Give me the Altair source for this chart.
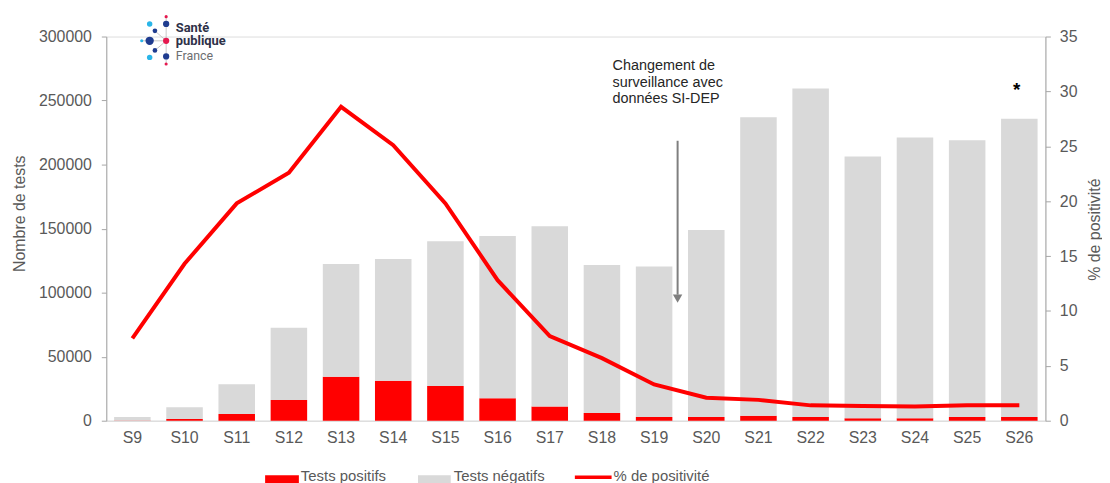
import altair as alt
import pandas as pd

weeks = ["S9", "S10", "S11", "S12", "S13", "S14", "S15", "S16", "S17",
         "S18", "S19", "S20", "S21", "S22", "S23", "S24", "S25", "S26"]
tests_positifs = [200, 1300, 5200, 16100, 34400, 31300, 27200, 17600, 11100,
                  6000, 2900, 2900, 3900, 2900, 1900, 1900, 2900, 2900]
tests_negatifs = [2700, 9300, 23300, 56400, 87900, 94900, 113000, 126700, 140700,
                  115500, 117600, 146100, 233000, 256500, 204500, 219200, 216200, 232900]
pct_positivite = [7.5, 14.3, 19.8, 22.6, 28.6, 25.1, 19.8, 12.8, 7.7,
                  5.7, 3.3, 2.1, 1.9, 1.4, 1.35, 1.3, 1.4, 1.4]

series_names = ["Tests positifs", "Tests négatifs", "% de positivité"]
left_ticks = [0, 50000, 100000, 150000, 200000, 250000, 300000]
right_ticks = [0, 5, 10, 15, 20, 25, 30, 35]
annotation_lines = ["Changement de", "surveillance avec", "données SI-DEP"]
logo_lines = ["Santé", "publique", "France"]

FONT = "Liberation Sans"
GREY_TXT = "#595959"
RED = "#FF0000"
LIGHT = "#D9D9D9"

rows = []
for i, w in enumerate(weeks):
    rows.append({"week": w, "serie": series_names[0], "value": tests_positifs[i], "ord": 0})
    rows.append({"week": w, "serie": series_names[1], "value": tests_negatifs[i], "ord": 1})
bars_df = pd.DataFrame(rows)
line_df = pd.DataFrame({"week": weeks, "pct": pct_positivite})

W, H = 946, 387

x_enc = alt.X("week:N", sort=weeks,
              scale=alt.Scale(paddingInner=0.3, paddingOuter=0.15),
              axis=alt.Axis(title=None, labelAngle=0, labelFont=FONT, labelFontSize=16,
                            labelColor=GREY_TXT, ticks=False, labelPadding=9,
                            domainColor="#D9D9D9", domainWidth=1))

bars = alt.Chart(bars_df).mark_bar().encode(
    x=x_enc,
    y=alt.Y("value:Q", stack="zero",
            scale=alt.Scale(domain=[0, 300000], nice=False),
            axis=alt.Axis(title="Nombre de tests", values=left_ticks, format="d",
                          grid=False, orient="left",
                          labelFont=FONT, labelFontSize=16, labelColor=GREY_TXT,
                          labelPadding=10, tickSize=5, tickColor="#A6A6A6",
                          domainColor="#A6A6A6",
                          titleFont=FONT, titleFontSize=16, titleFontWeight="normal",
                          titleColor=GREY_TXT, titleAngle=270, titleX=-87, titleY=178,
                          titleAlign="center", titleBaseline="middle")),
    color=alt.Color("serie:N", scale=alt.Scale(domain=series_names[:2], range=[RED, LIGHT]),
                    legend=None),
    order=alt.Order("ord:Q"),
)

line = alt.Chart(line_df).mark_line(color=RED, strokeWidth=4).encode(
    x=alt.X("week:N", sort=weeks),
    y=alt.Y("pct:Q", scale=alt.Scale(domain=[0, 35], nice=False),
            axis=alt.Axis(title="% de positivité", values=right_ticks, grid=False,
                          orient="right",
                          labelFont=FONT, labelFontSize=16, labelColor=GREY_TXT,
                          labelPadding=9, tickSize=5, tickColor="#A6A6A6",
                          domainColor="#A6A6A6",
                          titleFont=FONT, titleFontSize=16, titleFontWeight="normal",
                          titleColor=GREY_TXT, titleAngle=270, titleX=49, titleY=194,
                          titleAlign="center", titleBaseline="middle")),
)

one = pd.DataFrame({"k": [0]})

annot = alt.Chart(one).mark_text(align="left", baseline="alphabetic", font=FONT,
                                 fontSize=14.5, lineHeight=16.5, color="#262626").encode(
    x=alt.value(510), y=alt.value(34), text=alt.value(annotation_lines))

arrow = alt.Chart(one).mark_rule(color="#7F7F7F", strokeWidth=2).encode(
    x=alt.value(575.5), y=alt.value(105), y2=alt.value(260))
arrow_head = alt.Chart(one).mark_point(shape="triangle-down", filled=True, opacity=1,
                                        color="#7F7F7F", size=90).encode(
    x=alt.value(575.5), y=alt.value(264))

star = alt.Chart(one).mark_text(text="*", font=FONT, fontSize=19, fontWeight="bold",
                                color="#000000", baseline="alphabetic").encode(
    x=alt.value(917), y=alt.value(60))

# logo (decoration)
logo_lines_marks = [
    alt.Chart(one).mark_rule(color="#C8C8C8", strokeWidth=1).encode(
        x=alt.value(60.3), y=alt.value(-20), y2=alt.value(27.7)),
    alt.Chart(one).mark_rule(color="#C8C8C8", strokeWidth=1).encode(
        x=alt.value(35.7), x2=alt.value(60.3), y=alt.value(4.3)),
    alt.Chart(one).mark_rule(color="#C8C8C8", strokeWidth=1).encode(
        x=alt.value(49), x2=alt.value(60.3), y=alt.value(-5.7), y2=alt.value(4.3)),
    alt.Chart(one).mark_rule(color="#C8C8C8", strokeWidth=1).encode(
        x=alt.value(49), x2=alt.value(60.3), y=alt.value(14), y2=alt.value(4.3)),
]
dots = [
    (43.7, -12.7, 30, "#29B5E8"), (60.3, -12.7, 40, "#1F3C8F"), (60.3, -20, 10, "#E5194F"),
    (49, -5.7, 22, "#1F3C8F"), (43.7, 4.3, 70, "#1F3C8F"), (35.7, 4.3, 10, "#29B5E8"),
    (60.3, 4.3, 40, "#E5194F"), (49, 14, 22, "#1F3C8F"), (43.7, 21, 30, "#29B5E8"),
    (60.3, 20, 40, "#1F3C8F"), (60.3, 27.7, 10, "#E5194F"),
]
logo_dots = [alt.Chart(one).mark_circle(color=c, opacity=1, size=s).encode(
    x=alt.value(dx), y=alt.value(dy)) for dx, dy, s, c in dots]
logo_text = [
    alt.Chart(one).mark_text(align="left", baseline="alphabetic", font="Roboto",
                             fontSize=13, fontWeight="bold", color="#2E3148").encode(
        x=alt.value(70), y=alt.value(-5), text=alt.value(logo_lines[0])),
    alt.Chart(one).mark_text(align="left", baseline="alphabetic", font="Roboto",
                             fontSize=13, fontWeight="bold", color="#2E3148").encode(
        x=alt.value(70), y=alt.value(8.7), text=alt.value(logo_lines[1])),
    alt.Chart(one).mark_text(align="left", baseline="alphabetic", font="Roboto",
                             fontSize=12.5, color="#6D6E71").encode(
        x=alt.value(70), y=alt.value(24), text=alt.value(logo_lines[2])),
]

# legend (manual, bottom)
leg = [
    alt.Chart(one).mark_rect(color=RED).encode(
        x=alt.value(160), x2=alt.value(194), y=alt.value(442), y2=alt.value(452)),
    alt.Chart(one).mark_rect(color=LIGHT).encode(
        x=alt.value(314), x2=alt.value(347), y=alt.value(442), y2=alt.value(452)),
    alt.Chart(one).mark_rule(color=RED, strokeWidth=3.5).encode(
        x=alt.value(472), x2=alt.value(509), y=alt.value(444)),
]
for lx, txt in [(196, series_names[0]), (350, series_names[1]), (511, series_names[2])]:
    leg.append(alt.Chart(one).mark_text(align="left", baseline="alphabetic", font=FONT,
                                        fontSize=15, color=GREY_TXT).encode(
        x=alt.value(lx), y=alt.value(448), text=alt.value(txt)))

main = alt.layer(bars, line).resolve_scale(y="independent")

chart = alt.layer(main, annot, arrow, arrow_head, star, *logo_lines_marks, *logo_dots,
                  *logo_text, *leg).properties(
    width=W, height=H,
    autosize=alt.AutoSizeParams(type="none"),
    padding={"left": 99, "top": 27, "right": 57, "bottom": 61},
).configure_view(stroke=None).configure(background="white")

chart.save("out.html", embed_options={"renderer": "svg", "actions": False})
